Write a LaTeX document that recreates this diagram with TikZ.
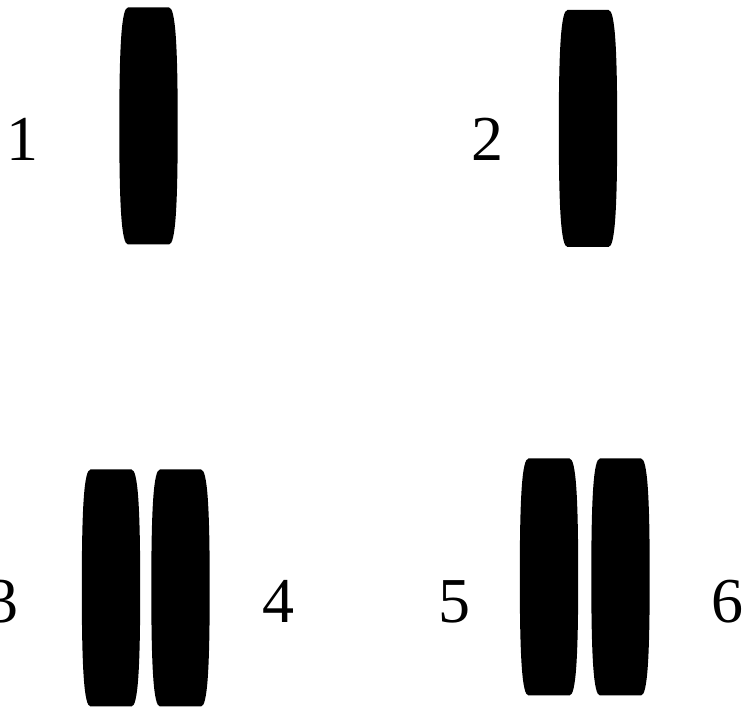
\documentclass[tikz,border=0pt]{standalone}
\usepackage{fontspec}
\setmainfont{Liberation Serif}
\usetikzlibrary{positioning}

\tikzset{
  slab/.pic={
    \fill[black] (-20.5,118.5) -- (20.5,118.5)
      .. controls (27,118.5) and (29.2,80) .. (29.2,0)
      .. controls (29.2,-80) and (27,-118.5) .. (20.5,-118.5)
      -- (-20.5,-118.5)
      .. controls (-27,-118.5) and (-29.2,-80) .. (-29.2,0)
      .. controls (-29.2,80) and (-27,118.5) .. (-20.5,118.5) -- cycle;
  }
}

\begin{document}
\begin{tikzpicture}[
  x=1pt, y=1pt,
  num/.style={anchor=base, inner sep=0pt, font=\fontsize{64}{64}\selectfont}
]
\useasboundingbox (0,0) rectangle (744,708);

% --- single slabs (top) ---
\pic at (148.5,582) {slab};
\pic at (588,579.5) {slab};

% --- paired slabs (bottom) ---
\foreach \x in {111,180.5} {
  \pic at (\x,120) {slab};
}
\foreach \x in {549,620.5} {
  \pic at (\x,131) {slab};
}

% --- labels ---
\node[num] (n1) at (22,547) {1};
\node[num] (n2) at (487,547) {2};
\node[num] (n3) at (3,85) {3};
\node[num] (n4) at (278,85) {4};
\node[num] (n5) at (454,85) {5};
\node[num] (n6) at (727,85) {6};

\end{tikzpicture}
\end{document}
